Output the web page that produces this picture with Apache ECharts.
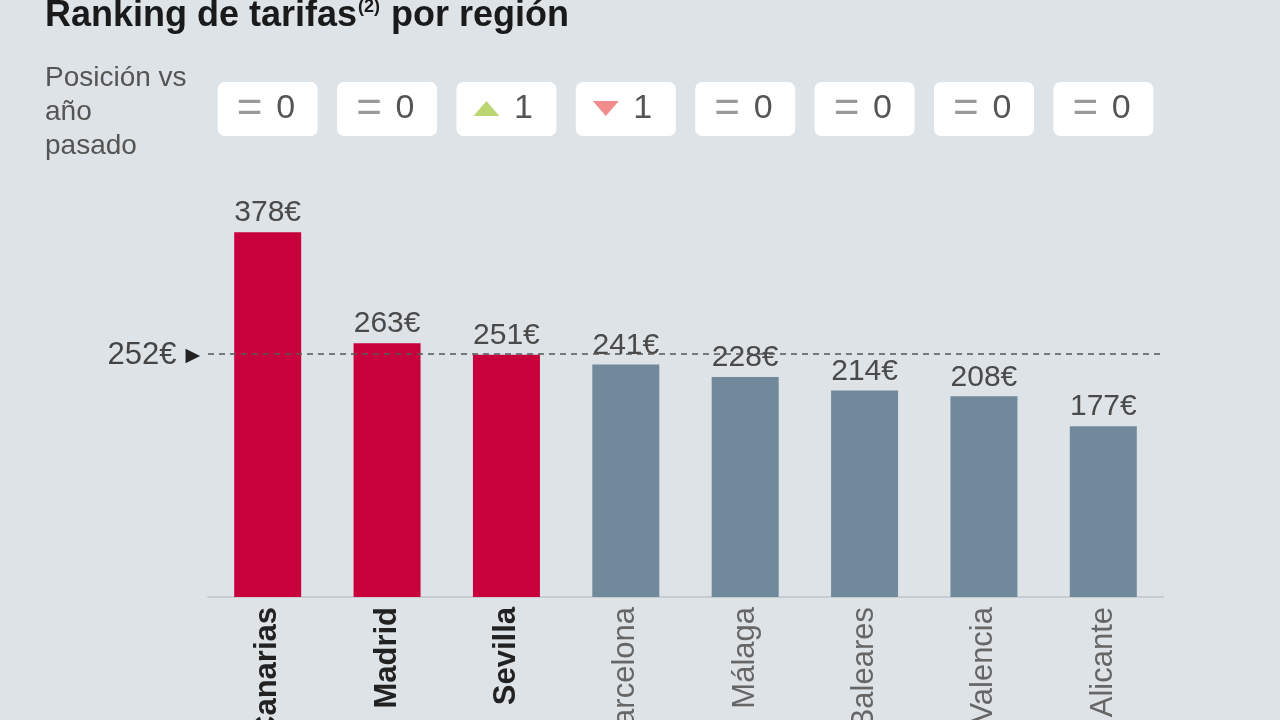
<!DOCTYPE html>
<html><head><meta charset="utf-8">
<script src="https://cdn.jsdelivr.net/npm/echarts@6/dist/echarts.min.js"></script>
<style>html,body{margin:0;padding:0;background:#dde3e7}#c{width:1280px;height:720px}</style>
</head><body><div id="c"></div>
<script>
const categories = ['Canarias','Madrid','Sevilla','Barcelona','Málaga','Baleares','Valencia','Alicante'];
const tarifas = [378, 263, 251, 241, 228, 214, 208, 177];
const positionChange = [0, 0, 1, -1, 0, 0, 0, 0];
const highlighted = [true, true, true, false, false, false, false, false];
const average = 252;

const BG = '#dde3e7';
const RED = '#c8003c';
const GREY = '#718a9b';
const FONT = '"Liberation Sans", Arial, sans-serif';

const chart = echarts.init(document.getElementById('c'));
chart.setOption({
  backgroundColor: BG,
  animation: false,
  textStyle: { fontFamily: FONT },
  grid: { left: 208, right: 117, top: 211, bottom: 123, containLabel: false, outerBoundsMode: 'none' },
  xAxis: {
    type: 'category', data: categories,
    axisLine: { lineStyle: { color: '#c6ccd1', width: 2 } },
    axisTick: { show: false },
    axisLabel: {
      rotate: 90, margin: 10, interval: 0,
      formatter: (v, i) => highlighted[i] ? '{b|' + v + '}' : '{n|' + v + '}',
      rich: {
        b: { fontSize: 31, fontWeight: 'bold', color: '#222', fontFamily: FONT },
        n: { fontSize: 31, color: '#666', fontFamily: FONT }
      }
    }
  },
  yAxis: { type: 'value', min: 0, max: 400, show: false, splitLine: { show: false } },
  graphic: [
    { type: 'text', x: 45, y: 16, style: {
        text: '{t|Ranking de tarifas}{s|(2)}{t| por región}', verticalAlign: 'middle',
        rich: {
          t: { fontSize: 36, fontWeight: 'bold', fill: '#1a1a1a', fontFamily: FONT },
          s: { fontSize: 18, fontWeight: 'bold', fill: '#1a1a1a', fontFamily: FONT, padding: [0, 1, 18, 1] }
        } } },
    { type: 'text', x: 45, y: 61, style: {
        text: 'Posición vs\naño\npasado', fontSize: 28, lineHeight: 34, fill: '#555',
        fontFamily: FONT, verticalAlign: 'top' } }
  ],
  series: [
    {
      type: 'bar', z: 2, barWidth: 67, silent: true,
      data: tarifas.map((v, i) => ({ value: v, itemStyle: { color: highlighted[i] ? RED : GREY } }))
    },
    {
      type: 'line', z: 3, data: [], silent: true,
      markLine: {
        symbol: 'none', silent: true, animation: false,
        data: [{ yAxis: average }],
        lineStyle: { type: [6, 5], color: '#555', width: 1.5 },
        label: {
          position: 'start', distance: 8, formatter: '{v|' + average + '€}{a|▶}',
          rich: {
            v: { fontSize: 31, color: '#444', fontFamily: FONT, padding: [4, 9, 0, 0] },
            a: { fontSize: 19, color: '#222', fontFamily: '"DejaVu Sans", sans-serif', padding: [4, 0, 0, 0] }
          }
        }
      }
    },
    {
      type: 'bar', z: 4, barWidth: 67, barGap: '-100%', silent: true,
      data: tarifas,
      itemStyle: { color: 'rgba(0,0,0,0)' },
      label: {
        show: true, position: 'top', distance: 4,
        formatter: p => p.value + '€',
        fontSize: 30, color: '#4a4a4a', fontFamily: FONT,
        backgroundColor: BG, padding: [4, 3, 0, 3]
      }
    },
    {
      type: 'custom', z: 5, clip: false, silent: true,
      data: positionChange.map((c, i) => [i, c]),
      encode: { x: 0, y: 1 },
      renderItem(params, api) {
        const x = api.coord([api.value(0), 0])[0];
        const c = api.value(1);
        const cy = 109;
        const children = [{ type: 'rect', shape: { x: x - 50, y: 82, width: 100, height: 54, r: 7 }, style: { fill: '#ffffff' } }];
        if (c === 0) {
          children.push({ type: 'text', style: {
            x: x - 18, y: cy + 1, text: '=', align: 'center', verticalAlign: 'middle',
            fontSize: 44, fill: '#9a9a9a', fontFamily: FONT } });
          children.push({ type: 'text', style: {
            x: x + 18, y: cy, text: '0', align: 'center', verticalAlign: 'middle',
            fontSize: 34, fill: '#555', fontFamily: FONT } });
        } else {
          const up = c > 0;
          const pts = up ? [[x - 33, cy + 7], [x - 7, cy + 7], [x - 20, cy - 8]]
                         : [[x - 33, cy - 8], [x - 7, cy - 8], [x - 20, cy + 7]];
          children.push({ type: 'polygon', shape: { points: pts }, style: { fill: up ? '#bcd672' : '#f28c8c' } });
          children.push({ type: 'text', style: { x: x + 17, y: cy, text: String(Math.abs(c)), align: 'center', verticalAlign: 'middle', fontSize: 34, fill: '#555', fontFamily: FONT } });
        }
        return { type: 'group', children };
      }
    }
  ]
});
</script></body></html>
